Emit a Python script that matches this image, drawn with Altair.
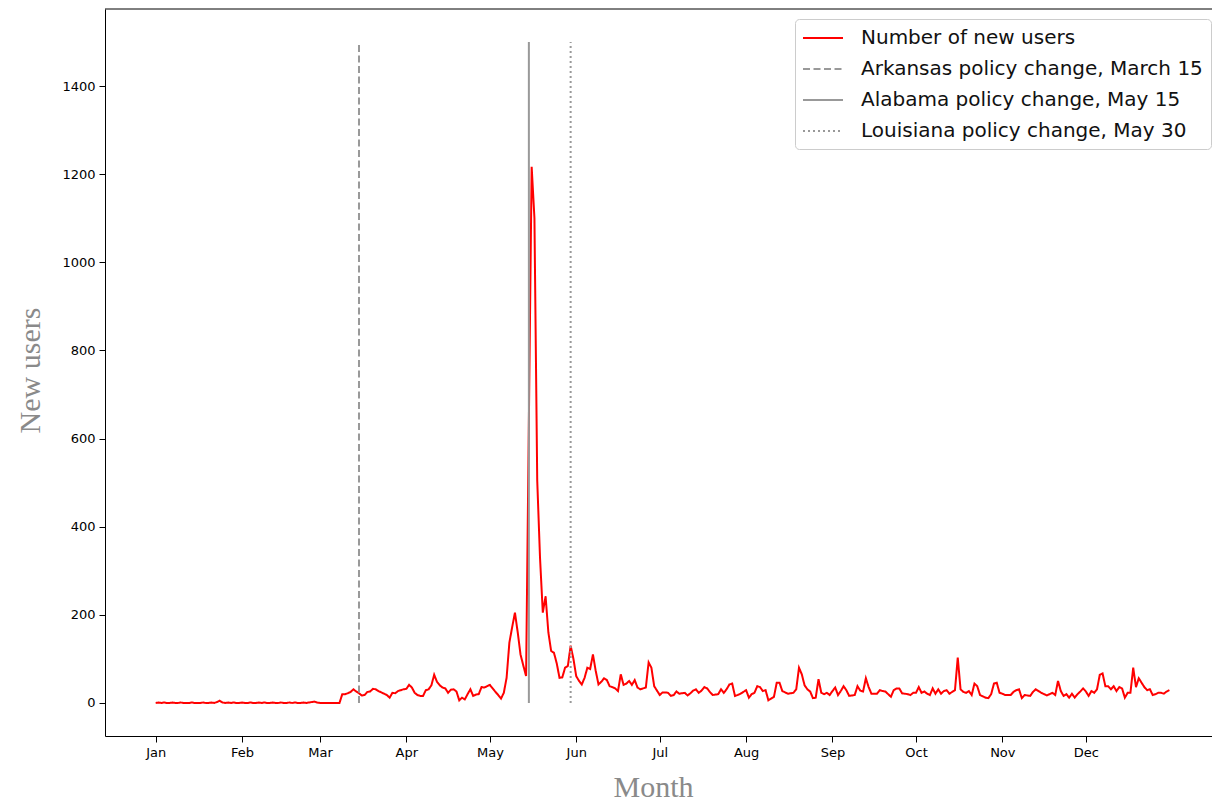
import altair as alt
import pandas as pd

# Daily number of new users, 2019
jan = [0, 1, 0, 1, 0, 0, 1, 0, 0, 1, 0, 0, 0, 1, 0, 0, 0, 1, 0, 0, 1, 0, 2, 5, 1, 0, 1, 0, 1, 0, 0]
feb = [1, 0, 0, 1, 0, 0, 1, 0, 1, 0, 0, 1, 0, 0, 1, 0, 0, 1, 0, 1, 0, 0, 1, 0, 1, 2, 3, 1]
mar = [0, 0, 0, 0, 0, 0, 0, 0, 20, 20, 22, 25, 31, 26, 22, 17, 18, 25, 26, 32, 31, 27, 24,
       21, 18, 12, 23, 22, 27, 29, 31]
apr = [32, 41, 35, 23, 18, 16, 16, 29, 31, 40, 64, 48, 40, 35, 33, 23, 30, 31, 26, 6,
       12, 8, 20, 31, 16, 19, 20, 36, 35, 38]
may = [41, 33, 25, 18, 10, 23, 57, 137, 172, 205, 160, 110, 85, 61, 640, 1217, 1100, 505,
       330, 205, 242, 160, 118, 114, 90, 57, 58, 80, 84, 130, 100]
jun = [61, 50, 42, 57, 80, 77, 110, 73, 42, 48, 56, 52, 38, 36, 33, 27, 65, 41, 44, 50,
       41, 52, 35, 31, 33, 35, 92, 80, 38, 28]
jul = [18, 24, 24, 23, 16, 18, 26, 21, 22, 23, 17, 22, 28, 31, 23, 28, 36, 33, 25, 18,
       19, 20, 31, 23, 31, 42, 44, 16, 18, 21, 25]
aug = [29, 12, 20, 23, 38, 36, 27, 29, 6, 10, 14, 46, 46, 27, 24, 21, 22, 23, 31, 80,
       65, 40, 31, 26, 11, 12, 54, 23, 20, 23, 18]
sep = [27, 35, 18, 27, 38, 29, 16, 17, 18, 38, 28, 26, 56, 36, 21, 21, 21, 29, 27, 26,
       20, 14, 29, 33, 33, 22, 21, 20, 18, 23]
oct_ = [23, 36, 23, 26, 21, 18, 33, 21, 31, 21, 27, 29, 21, 25, 29, 103, 31, 25, 23, 27,
        18, 44, 38, 18, 15, 12, 11, 20, 44, 46, 23]
nov = [21, 18, 18, 18, 25, 29, 31, 11, 18, 17, 16, 25, 31, 27, 23, 20, 17, 20, 23, 18,
       50, 27, 16, 20, 12, 21, 12, 20, 26, 33]
dec = [26, 16, 27, 23, 31, 64, 67, 38, 38, 31, 38, 27, 36, 33, 12, 23, 23, 80, 36, 56,
       46, 36, 29, 31, 18, 20, 23, 23, 21, 26, 29]

values = jan + feb + mar + apr + may + jun + jul + aug + sep + oct_ + nov + dec

series_names = [
    "Number of new users",
    "Arkansas policy change, March 15",
    "Alabama policy change, May 15",
    "Louisiana policy change, May 30",
]
policy_dates = ["2019-03-15", "2019-05-15", "2019-05-30"]
policy_top = 1500
y_ticks = [0, 200, 400, 600, 800, 1000, 1200, 1400]

dates = pd.date_range("2019-01-01", periods=len(values), freq="D")
df_line = pd.DataFrame({"date": dates, "value": values, "series": series_names[0]})
df_rules = pd.DataFrame({
    "date": pd.to_datetime(policy_dates),
    "series": series_names[1:],
    "y0": [0, 0, 0],
    "y1": [policy_top] * 3,
})

W, H = 1107, 727

x_scale = alt.Scale(domain=[alt.DateTime(year=2018, month=12, date=13, hours=19, minutes=12),
                            alt.DateTime(year=2020, month=1, date=15, hours=7)])
y_scale = alt.Scale(domain=[-75, 1575], nice=False, zero=False)

color = alt.Color("series:N", title=None,
                  scale=alt.Scale(domain=series_names,
                                  range=["#ff0000", "#999999", "#999999", "#999999"]))
dash = alt.StrokeDash("series:N", title=None,
                      scale=alt.Scale(domain=series_names,
                                      range=[[1, 0], [7, 3.5], [1, 0], [2, 3]]))

x_axis = alt.Axis(values=[alt.DateTime(year=2019, month=m, date=1) for m in range(1, 13)],
                  format="%b", title="Month", grid=False,
                  titleX=548, titleY=60, titleAlign="center", titleBaseline="alphabetic")
y_axis = alt.Axis(values=y_ticks, format="d", title="New users", grid=False,
                  titleX=-75, titleY=361, titleAngle=270, titleAlign="center",
                  titleBaseline="middle")

line = alt.Chart(df_line).mark_line(strokeWidth=2).encode(
    x=alt.X("date:T", scale=x_scale, axis=x_axis),
    y=alt.Y("value:Q", scale=y_scale, axis=y_axis),
    color=color,
    strokeDash=dash,
)

rules = alt.Chart(df_rules).mark_rule(strokeWidth=2).encode(
    x=alt.X("date:T"),
    y=alt.Y("y0:Q"),
    y2="y1:Q",
    color=color,
    strokeDash=dash,
)

top_border = alt.Chart(alt.Data(values=[{"a": 1}])).mark_rule(
    color="black", strokeWidth=1).encode(
    x=alt.value(0), x2=alt.value(W + 5), y=alt.value(0))

chart = alt.layer(line, rules, top_border).properties(
    width=W, height=H,
    autosize=alt.AutoSizeParams(type="none"),
    padding={"left": 97, "top": 1, "right": 0, "bottom": 68},
).configure_view(stroke=None).configure_axis(
    labelFont="DejaVu Sans", labelFontSize=13, labelColor="#000000",
    tickColor="#000000", domainColor="#000000", tickSize=6, labelPadding=4,
    titleFont="Liberation Serif", titleFontSize=30, titleFontWeight="normal",
    titleColor="#8a8a8a",
).configure_legend(
    orient="none", legendX=690, legendY=10,
    labelFont="DejaVu Sans", labelFontSize=20, labelColor="#111111", labelLimit=0,
    symbolType="M-2,0H2", symbolSize=400, symbolStrokeWidth=2,
    symbolOffset=9, labelOffset=27,
    strokeColor="#cccccc", fillColor="white", cornerRadius=4, padding=8, rowPadding=10,
)

chart.save("out.html", embed_options={"renderer": "svg", "actions": False})
